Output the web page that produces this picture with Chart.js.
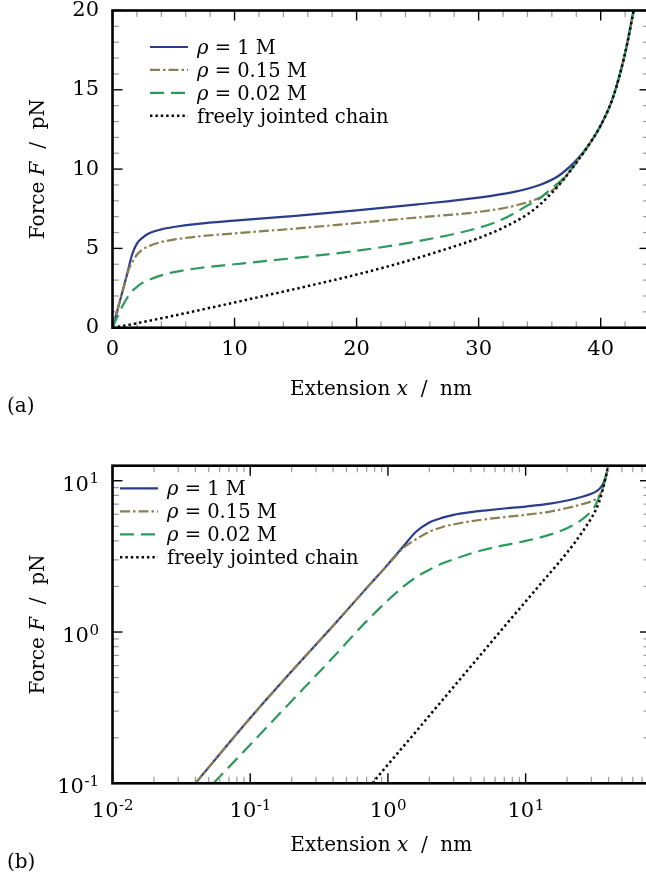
<!DOCTYPE html>
<html>
<head>
<meta charset="utf-8">
<script src="https://cdn.jsdelivr.net/npm/chart.js@4.4.1/dist/chart.umd.min.js"></script>
<style>
html,body{margin:0;padding:0;background:#fff;overflow:hidden;width:646px;height:879px}
canvas{position:absolute;left:0}
#ca{top:0}
#cb{top:440px}
</style>
</head>
<body>
<canvas id="ca" width="660" height="440"></canvas>
<canvas id="cb" width="660" height="439"></canvas>
<script>
// valeurs : extension x (nm) et force F (pN)
const ext1M     = [0, 0.04, 0.1, 0.2, 0.4, 0.7, 1.0, 1.3, 1.6, 2.0, 2.5, 3, 4, 5, 7, 10, 15, 20, 25, 30, 33, 35, 36.5, 38, 39, 40, 41, 42, 42.7];
const force1M   = [0, 0.1, 0.27, 0.55, 1.1, 1.95, 2.8, 3.7, 4.6, 5.3, 5.7, 5.95, 6.2, 6.35, 6.55, 6.75, 7.05, 7.4, 7.78, 8.2, 8.58, 9.0, 9.55, 10.55, 11.5, 12.75, 14.5, 17.3, 20];
const ext015    = [0, 0.04, 0.1, 0.2, 0.4, 0.7, 1.0, 1.3, 1.6, 2.0, 2.5, 3, 4, 5, 7, 10, 15, 20, 25, 30, 33, 35, 36.5, 38, 39, 40, 41, 42, 42.7];
const force015  = [0, 0.1, 0.27, 0.55, 1.1, 1.95, 2.78, 3.6, 4.1, 4.6, 4.95, 5.15, 5.4, 5.55, 5.75, 5.95, 6.25, 6.6, 6.95, 7.3, 7.7, 8.2, 8.95, 10.45, 11.5, 12.75, 14.5, 17.3, 20];
const ext002    = [0, 0.054, 0.1, 0.2, 0.4, 0.7, 1.0, 1.3, 1.6, 2.0, 2.5, 3, 4, 5, 7, 10, 15, 20, 25, 30, 32, 34, 35, 36, 37, 38, 39, 40, 41, 42, 42.7];
const force002  = [0, 0.1, 0.18, 0.35, 0.68, 1.18, 1.62, 2.0, 2.3, 2.58, 2.85, 3.02, 3.3, 3.5, 3.75, 4.0, 4.4, 4.85, 5.45, 6.3, 6.85, 7.7, 8.15, 8.8, 9.45, 10.4, 11.5, 12.75, 14.5, 17.3, 20];
const extFJC    = [0, 0.77, 1, 1.5, 2, 3, 5, 7.5, 10, 12.5, 15, 17.5, 20, 22.5, 25, 27.5, 30, 32, 34, 35, 36, 37, 38, 39, 40, 41, 42, 42.7];
const forceFJC  = [0, 0.1, 0.133, 0.205, 0.28, 0.434, 0.754, 1.17, 1.59, 2.02, 2.45, 2.89, 3.35, 3.85, 4.4, 5.0, 5.65, 6.3, 7.15, 7.75, 8.5, 9.38, 10.4, 11.5, 12.75, 14.5, 17.3, 20];

const legendLabels = ['1 M', '0.15 M', '0.02 M', 'freely jointed chain'];
const ticksXA = [0, 10, 20, 30, 40];
const ticksYA = [0, 5, 10, 15, 20];
const ticksXB = [0.01, 0.1, 1, 10];
const ticksYB = [0.1, 1, 10];

const SERIF = '"DejaVu Serif", serif';
const colors = ['#2a3c8e', '#8a7f4f', '#2b9a5c', '#000000'];
const dashes = [[], [10, 3, 2.5, 3], [14, 7], [2.4, 3]];

function pts(xs, ys, log){
  return xs.map((x,i)=>({x, y: ys[i]})).filter(p => !log || (p.x>0 && p.y>0));
}
function makeSets(log){
  return [[ext1M,force1M],[ext015,force015],[ext002,force002],[extFJC,forceFJC]].map(([xs,ys],i)=>({
    label: legendLabels[i], data: pts(xs,ys,log), borderColor: colors[i], borderWidth: i===3 ? 2.5 : 2.2,
    borderDash: dashes[i], borderCapStyle: 'butt', pointRadius: 0, fill: false, cubicInterpolationMode: 'monotone',
    order: 4 - i
  }));
}

// texte avec morceaux italiques
function mixed(ctx, parts, x, y, size, align){
  const fonts = parts.map(p => (p[1] ? 'italic ' : '') + size + 'px ' + SERIF);
  const w = parts.map((p,i)=>{ ctx.font = fonts[i]; return ctx.measureText(p[0]).width; });
  const tot = w.reduce((s,v)=>s+v,0);
  let cx = align==='center' ? x - tot/2 : align==='right' ? x - tot : x;
  ctx.textAlign = 'left'; ctx.textBaseline = 'alphabetic';
  parts.forEach((p,i)=>{ ctx.font = fonts[i]; ctx.fillText(p[0], cx, y); cx += w[i]; });
}
function pow10(ctx, e, x, y, align){
  const base = '10', ex = String(e);
  ctx.font = '21px ' + SERIF; const wb = ctx.measureText(base).width;
  ctx.font = '15px ' + SERIF; const we = ctx.measureText(ex).width;
  const x0 = align==='center' ? x - (wb+we)/2 : x - wb - we;
  ctx.textAlign = 'left'; ctx.textBaseline = 'alphabetic';
  ctx.font = '21px ' + SERIF; ctx.fillText(base, x0, y);
  ctx.font = '15px ' + SERIF; ctx.fillText(ex, x0 + wb + 0.5, y - 7.5);
}

function makeDeco(cfg){
  return {
    id: 'deco',
    afterDatasetsDraw(chart){
      const {ctx, chartArea: a, scales: {x, y}} = chart;
      const seg = (x1,y1,x2,y2)=>{ ctx.beginPath(); ctx.moveTo(x1,y1); ctx.lineTo(x2,y2); ctx.stroke(); };
      ctx.save();
      ctx.setLineDash([]);
      ctx.lineWidth = 1.2; ctx.strokeStyle = '#9a9a9a';
      cfg.xMinor.forEach(v=>{ const p = x.getPixelForValue(v); seg(p,a.bottom,p,a.bottom-6.5); seg(p,a.top,p,a.top+6.5); });
      cfg.yMinor.forEach(v=>{ const p = y.getPixelForValue(v); seg(a.left,p,a.left+6.5,p); seg(a.right,p,a.right-6.5,p); });
      ctx.lineWidth = 1.4; ctx.strokeStyle = '#000';
      cfg.xMajor.forEach(v=>{ const p = x.getPixelForValue(v); seg(p,a.bottom,p,a.bottom-10); seg(p,a.top,p,a.top+10); });
      cfg.yMajor.forEach(v=>{ const p = y.getPixelForValue(v); seg(a.left,p,a.left+10,p); seg(a.right,p,a.right-10,p); });
      ctx.lineWidth = 2.6;
      ctx.strokeRect(a.left, a.top, a.right-a.left, a.bottom-a.top);
      ctx.restore();
    },
    afterDraw(chart){
      const {ctx, chartArea: a, scales: {x, y}} = chart;
      ctx.save();
      ctx.fillStyle = '#000';
      if (cfg.log){
        ticksXB.forEach(v=>pow10(ctx, Math.round(Math.log10(v)), x.getPixelForValue(v), a.bottom + 33.7, 'center'));
        ticksYB.forEach(v=>pow10(ctx, Math.round(Math.log10(v)), 98.5, y.getPixelForValue(v) + 10, 'right'));
      }
      // titres des axes
      mixed(ctx, [['Extension ',0],['x',1],['  /  nm',0]], (a.left+a.right)/2, a.bottom + 67.5, 20, 'center');
      ctx.save();
      ctx.translate(44, (a.top+a.bottom)/2);
      ctx.rotate(-Math.PI/2);
      mixed(ctx, [['Force ',0],['F',1],['  /  pN',0]], 0, 0, 20, 'center');
      ctx.restore();
      ctx.font = '20px ' + SERIF; ctx.textAlign = 'left';
      ctx.fillText(cfg.panel, 7, cfg.panelY);
      // légende
      chart.data.datasets.forEach((ds,i)=>{
        const ly = cfg.legY + i*cfg.legStep;
        ctx.save();
        ctx.strokeStyle = ds.borderColor; ctx.lineWidth = ds.borderWidth; ctx.setLineDash(ds.borderDash);
        ctx.beginPath(); ctx.moveTo(cfg.legX, ly); ctx.lineTo(cfg.legX + 38, ly); ctx.stroke();
        ctx.restore();
        const parts = i < 3 ? [['ρ',1],[' = ' + ds.label,0]] : [[ds.label,0]];
        mixed(ctx, parts, cfg.legX + 47, ly + 7, 19.5, 'left');
      });
      ctx.restore();
    }
  };
}

const minorA_x = [], minorA_y = [];
for (let v=2; v<44; v+=2) if (v%10) minorA_x.push(v);
for (let v=1; v<20; v++) if (v%5) minorA_y.push(v);
const minorB_x = [], minorB_y = [];
for (let k=-2; k<=1; k++) for (let m=2; m<=9; m++){ const v = m*Math.pow(10,k); if (v<80) minorB_x.push(v); }
for (let k=-1; k<=1; k++) for (let m=2; m<=9; m++){ const v = m*Math.pow(10,k); if (v<12.5) minorB_y.push(v); }

const tickFont = {family: SERIF, size: 21};
const noGrid = {display: false, drawTicks: false};
const fitX = h => s => { s.height = h; s.paddingLeft = 0; s.paddingRight = 0; };
const fitY = w => s => { s.width = w; s.paddingTop = 0; s.paddingBottom = 0; };

new Chart(document.getElementById('ca'), {
  type: 'line',
  data: { datasets: makeSets(false) },
  options: {
    responsive: false, animation: false, devicePixelRatio: 1,
    layout: { padding: {left: 0, top: 10.5, right: 10.5, bottom: 0} },
    plugins: { legend: {display: false}, tooltip: {enabled: false} },
    scales: {
      x: { type: 'linear', min: 0, max: 44, grid: noGrid, border: {display: false},
           afterBuildTicks: s => { s.ticks = ticksXA.map(v=>({value: v})); },
           afterFit: fitX(440 - 327.7),
           ticks: { font: tickFont, color: '#000', padding: 9.7, autoSkip: false, maxRotation: 0 } },
      y: { type: 'linear', min: 0, max: 20, grid: noGrid, border: {display: false},
           afterBuildTicks: s => { s.ticks = ticksYA.map(v=>({value: v})); },
           afterFit: fitY(112.5),
           ticks: { font: tickFont, color: '#000', padding: 13.5 } }
    }
  },
  plugins: [makeDeco({log: false, xMinor: minorA_x, yMinor: minorA_y, xMajor: ticksXA, yMajor: ticksYA,
                      panel: '(a)', panelY: 412, legX: 150, legY: 47, legStep: 22.9})]
});

new Chart(document.getElementById('cb'), {
  type: 'line',
  data: { datasets: makeSets(true) },
  options: {
    responsive: false, animation: false, devicePixelRatio: 1,
    layout: { padding: {left: 0, top: 25.7, right: 10, bottom: 0} },
    plugins: { legend: {display: false}, tooltip: {enabled: false} },
    scales: {
      x: { type: 'logarithmic', min: 0.01, max: 80, grid: noGrid, border: {display: false},
           afterFit: fitX(439 - 343.3), ticks: { display: false } },
      y: { type: 'logarithmic', min: 0.1, max: 12.57, grid: noGrid, border: {display: false},
           afterFit: fitY(112.5), ticks: { display: false } }
    }
  },
  plugins: [makeDeco({log: true, xMinor: minorB_x, yMinor: minorB_y, xMajor: ticksXB, yMajor: ticksYB,
                      panel: '(b)', panelY: 428, legX: 120, legY: 48.3, legStep: 23})]
});
</script>
</body>
</html>
